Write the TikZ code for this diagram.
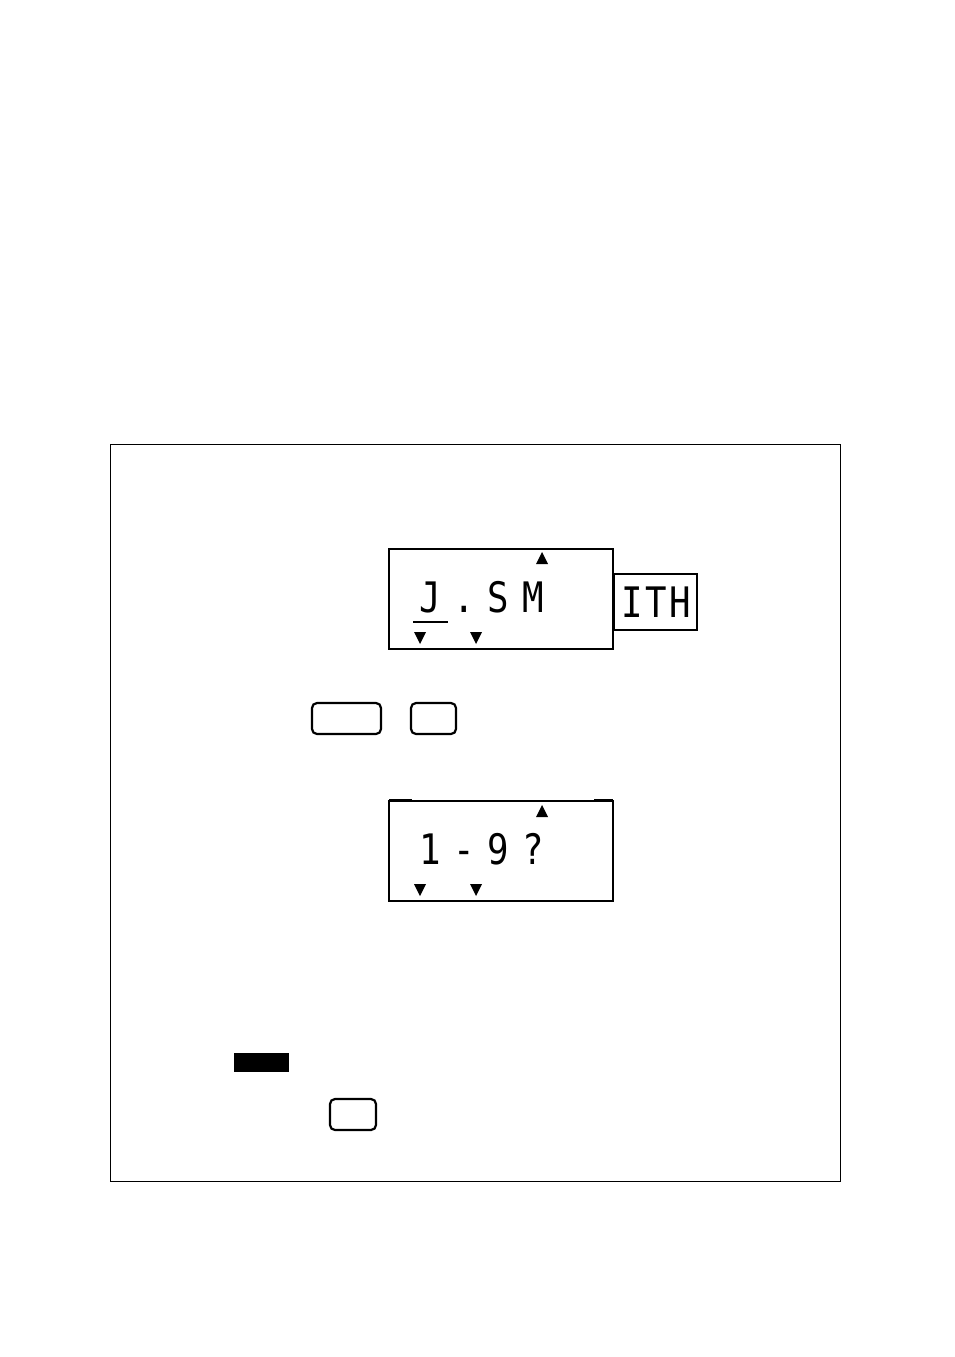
\documentclass[tikz,border=0pt]{standalone}
\usepackage{fontspec}
\newfontfamily\lcd[FakeStretch=0.85]{DejaVu Sans Mono}
\begin{document}
\begin{tikzpicture}[x=1pt,y=-1pt,
  frame/.style={draw=black,line width=1pt},
  lcdbox/.style={draw=black,line width=2.8pt},
  thinbox/.style={draw=black,line width=1.1pt},
  keybox/.style={draw=black,line width=2.2pt,rounded corners=5pt},
  ch/.style={font=\lcd\fontsize{42}{42}\selectfont,inner sep=0pt,anchor=base},
  tri/.style={fill=black}]
\useasboundingbox (0,0) rectangle (954,1357);
\draw[frame] (110,444) rectangle (840,1181);
% display 1
\node[lcdbox,minimum width=224pt,minimum height=100pt,inner sep=0pt] (d1) at (501,599) {};
\node[ch] (j) at (430,612) {J};
\node[ch] (dot) at (464,612) {.};
\node[ch] (s) at (498,612) {S};
\node[ch] (m) at (533,612) {M};
\draw[line width=1.4pt] (413,622) -- (448,622);
\fill[tri] (414,632) -- (426,632) -- (420,644) -- cycle;
\fill[tri] (470,632) -- (482,632) -- (476,644) -- cycle;
\fill[tri] (536,564) -- (548,564) -- (542,552) -- cycle;
% ITH box
\node[thinbox,minimum width=83pt,minimum height=56pt,inner sep=0pt] (ith) at (655.5,602) {};
\node[ch] (i1) at (632,617) {I};
\node[ch] (t1) at (656,617) {T};
\node[ch] (h1) at (680,617) {H};
% keys
\node[keybox,minimum width=69pt,minimum height=31pt,inner sep=0pt] (k1) at (346.5,718.5) {};
\node[keybox,minimum width=45pt,minimum height=31pt,inner sep=0pt] (k2) at (433.5,718.5) {};
% display 2
\node[lcdbox,minimum width=224pt,minimum height=100pt,inner sep=0pt] (d2) at (501,851) {};
\draw[line width=1.4pt] (389,800) -- (412,800);
\draw[line width=1.4pt] (594,800) -- (613,800);
\node[ch] (n1) at (430,864) {1};
\node[ch] (dash) at (464,864) {-};
\node[ch] (n9) at (498,864) {9};
\node[ch] (q) at (533,864) {?};
\fill[tri] (414,884) -- (426,884) -- (420,896) -- cycle;
\fill[tri] (470,884) -- (482,884) -- (476,896) -- cycle;
\fill[tri] (536,817) -- (548,817) -- (542,805) -- cycle;
% black bar
\node[fill=black,minimum width=55pt,minimum height=19pt,inner sep=0pt] (bar) at (261.5,1062.5) {};
% key 3
\node[keybox,minimum width=46pt,minimum height=31pt,inner sep=0pt] (k3) at (353,1114.5) {};
\end{tikzpicture}
\end{document}
